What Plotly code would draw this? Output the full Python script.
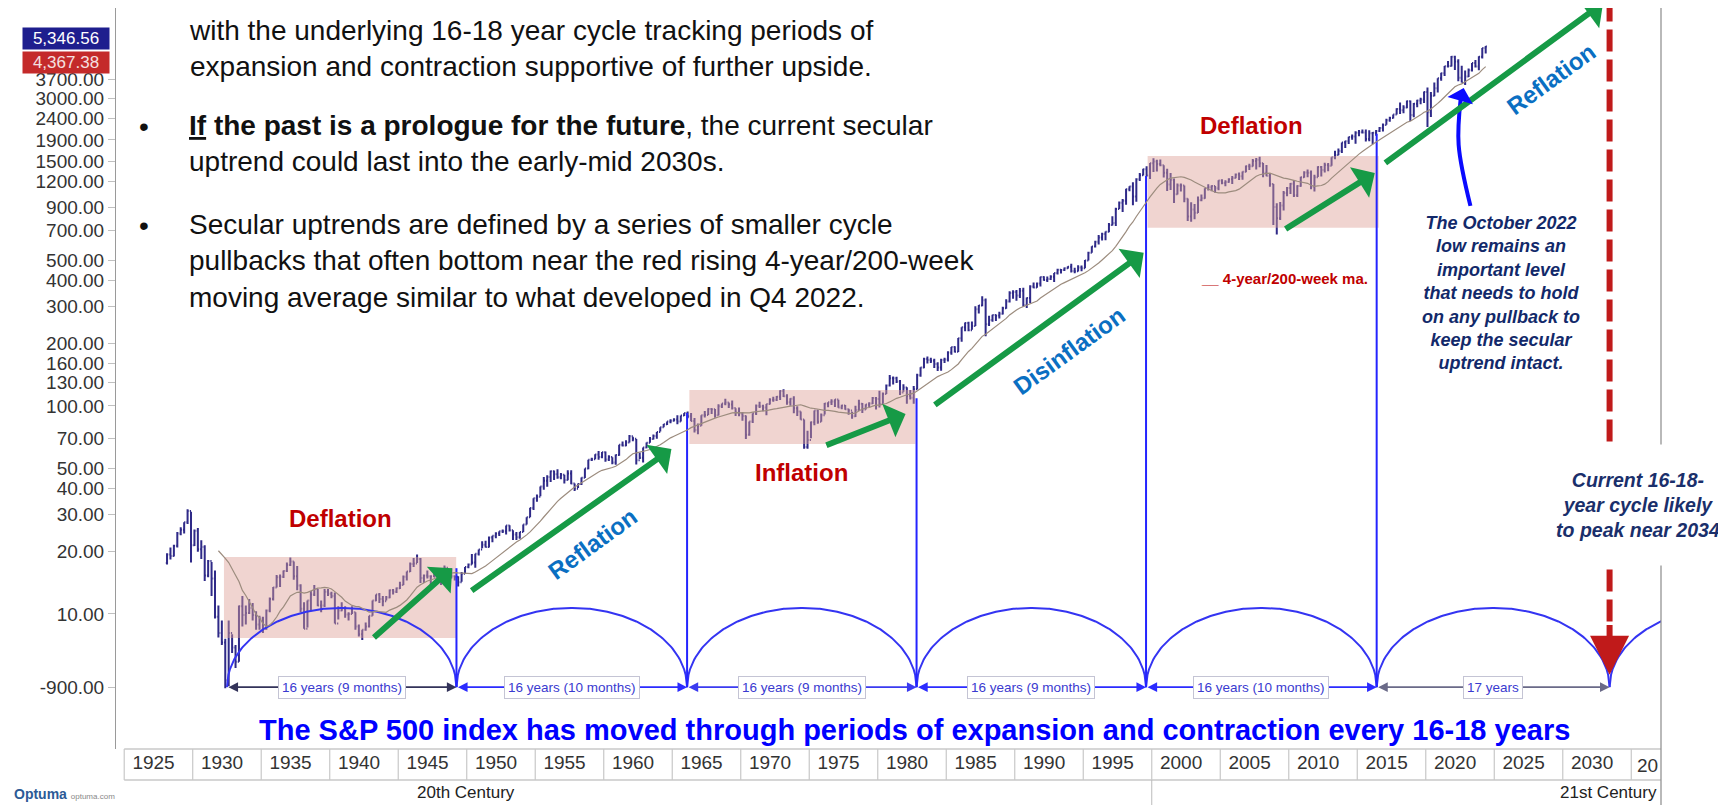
import math
import numpy as np
import pandas as pd
import plotly.graph_objects as go

# ---------------- data (quarterly S&P 500 bars) ----------------
first_year = 1928
first_open = 17.6
quarter_close = [
    19.3, 19.0, 21.3, 24.4, 25.4, 27.6, 31.3, 21.4, 25.1, 20.5, 21.0, 15.3, 18.0, 14.8, 9.7, 8.1,
    7.3, 4.8, 8.1, 6.9, 5.9, 10.9, 9.9, 10.1, 10.7, 9.9, 8.9, 9.5, 8.5, 10.4, 11.8, 13.4,
    15.0, 15.1, 16.1, 17.2, 17.9, 15.2, 13.7, 10.6, 8.5, 11.6, 12.4, 13.2, 11.0, 11.0, 12.8, 12.5,
    12.2, 9.0, 10.4, 10.6, 9.95, 10.0, 10.2, 8.7, 8.0, 8.4, 8.7, 9.8, 11.6, 12.4, 11.8, 11.5,
    12.0, 13.0, 12.8, 13.3, 13.8, 15.1, 16.0, 17.4, 17.5, 18.4, 14.9, 15.3, 15.2, 15.2, 15.1, 15.3,
    15.1, 16.7, 15.5, 15.2, 15.1, 14.2, 15.6, 16.8, 17.3, 17.7, 19.5, 20.4, 21.5, 21.0, 23.3, 23.8,
    24.4, 24.96, 25.0, 26.6, 25.3, 24.1, 23.4, 24.8, 26.9, 29.2, 32.3, 36.0, 36.6, 41.0, 43.7, 45.5,
    48.5, 46.97, 45.4, 46.7, 44.1, 47.4, 42.4, 40.0, 42.1, 45.2, 50.1, 55.2, 55.4, 58.5, 56.9, 59.9,
    55.3, 56.9, 53.5, 58.1, 65.1, 64.6, 66.7, 71.6, 69.6, 54.8, 56.3, 63.1, 66.6, 69.4, 71.7, 75.0,
    79.0, 81.7, 84.2, 84.8, 86.2, 84.1, 90.0, 92.4, 89.2, 84.7, 76.6, 80.3, 90.2, 90.6, 96.7, 96.5,
    90.2, 99.6, 102.7, 103.9, 101.5, 97.7, 93.1, 92.1, 89.6, 72.7, 84.2, 92.2, 100.3, 99.7, 98.3, 102.1,
    107.2, 107.1, 110.6, 118.1, 111.5, 104.3, 108.4, 97.6, 94.0, 86.0, 63.5, 68.6, 83.4, 95.2, 83.9, 90.2,
    102.8, 104.3, 105.2, 107.5, 98.4, 100.5, 96.5, 95.1, 89.2, 95.5, 102.5, 96.1, 101.6, 102.9, 109.3, 107.9,
    102.1, 114.2, 125.5, 135.8, 136.0, 131.2, 116.2, 122.6, 112.0, 109.6, 120.4, 140.6, 153.0, 168.1, 166.1, 164.9,
    159.2, 153.2, 166.1, 167.2, 180.7, 191.9, 182.1, 211.3, 238.9, 250.8, 231.3, 242.2, 291.7, 304.0, 321.8, 247.1,
    258.9, 273.5, 271.9, 277.7, 294.9, 318.0, 349.2, 353.4, 339.9, 358.0, 306.1, 330.2, 375.2, 371.2, 387.9, 417.1,
    403.7, 408.1, 417.8, 435.7, 451.7, 450.5, 458.9, 466.5, 445.8, 444.3, 462.7, 459.3, 500.7, 544.8, 584.4, 615.9,
    645.5, 670.6, 687.3, 740.7, 757.1, 885.1, 947.3, 970.4, 1101.8, 1133.8, 1017.0, 1229.2, 1286.4, 1372.7, 1282.7, 1469.3,
    1498.6, 1454.6, 1436.5, 1320.3, 1160.3, 1224.4, 1040.9, 1148.1, 1147.4, 989.8, 815.3, 879.8, 848.2, 974.5, 996.0, 1111.9,
    1126.2, 1140.8, 1114.6, 1211.9, 1180.6, 1191.3, 1228.8, 1248.3, 1294.8, 1270.2, 1335.9, 1418.3, 1420.9, 1503.4, 1526.8, 1468.4,
    1322.7, 1280.0, 1166.4, 903.3, 797.9, 919.3, 1057.1, 1115.1, 1169.4, 1030.7, 1141.2, 1257.6, 1325.8, 1320.6, 1131.4, 1257.6,
    1408.5, 1362.2, 1440.7, 1426.2, 1569.2, 1606.3, 1681.6, 1848.4, 1872.3, 1960.2, 1972.3, 2058.9, 2067.9, 2063.1, 1920.0, 2043.9,
    2059.7, 2098.9, 2168.3, 2238.8, 2362.7, 2423.4, 2519.4, 2673.6, 2640.9, 2718.4, 2914.0, 2506.9, 2834.4, 2941.8, 2976.7, 3230.8,
    2584.6, 3100.3, 3363.0, 3756.1, 3972.9, 4297.5, 4307.5, 4766.2, 4530.4, 3785.4, 3585.6, 3839.5, 4109.3, 4450.4, 4288.1, 4769.8,
    5254.4, 5346.56,
]
quarter_high = [
    19.6, 20.9, 21.5, 24.8, 26.1, 27.6, 31.9, 31.0, 25.5, 25.9, 22.6, 21.4, 18.2, 17.8, 16.2, 11.0,
    9.3, 7.6, 9.3, 8.0, 7.1, 11.0, 12.2, 11.0, 11.8, 11.3, 10.3, 9.8, 9.7, 10.5, 12.0, 13.5,
    15.4, 15.5, 16.2, 17.7, 18.7, 17.9, 17.0, 13.9, 11.4, 11.6, 12.9, 13.8, 13.2, 11.6, 13.2, 13.2,
    12.8, 12.7, 10.9, 11.4, 10.9, 10.2, 10.9, 10.2, 8.9, 8.4, 9.1, 9.8, 11.6, 12.4, 12.6, 12.2,
    12.2, 13.1, 13.2, 13.4, 14.3, 15.3, 16.0, 17.7, 18.6, 19.3, 18.6, 15.5, 16.2, 15.2, 16.1, 15.8,
    15.1, 17.1, 16.5, 16.6, 15.3, 15.2, 15.9, 16.8, 17.5, 19.4, 19.5, 20.4, 22.4, 22.5, 23.6, 23.8,
    24.7, 24.96, 25.5, 26.6, 26.7, 25.3, 24.8, 24.8, 26.9, 29.2, 32.4, 36.0, 37.5, 41.0, 45.6, 46.4,
    48.9, 48.9, 49.7, 47.6, 46.7, 49.1, 49.1, 42.4, 42.4, 45.3, 50.1, 55.2, 56.4, 58.6, 60.7, 60.0,
    60.4, 58.0, 56.7, 58.4, 65.1, 67.4, 68.5, 72.6, 71.1, 69.4, 59.7, 63.1, 66.7, 71.0, 73.0, 75.0,
    79.1, 82.0, 84.2, 86.3, 87.2, 90.3, 90.0, 92.6, 94.1, 92.4, 87.6, 82.4, 90.2, 94.6, 97.6, 97.6,
    96.6, 102.0, 102.9, 108.4, 104.0, 106.2, 97.6, 98.3, 93.5, 90.1, 84.3, 92.2, 101.6, 104.8, 101.4, 102.1,
    108.9, 110.7, 111.7, 119.1, 120.2, 113.7, 109.0, 111.4, 99.8, 94.0, 86.0, 76.0, 84.1, 95.2, 95.6, 92.0,
    103.4, 104.3, 107.8, 107.8, 107.0, 101.3, 101.0, 97.0, 93.8, 100.3, 107.0, 103.2, 102.0, 104.2, 110.5, 110.3,
    118.4, 116.0, 126.7, 141.0, 138.4, 138.0, 133.2, 127.0, 122.9, 119.3, 124.8, 143.0, 153.7, 170.4, 172.7, 170.4,
    168.8, 162.0, 168.4, 170.4, 183.4, 192.0, 193.8, 212.0, 238.9, 251.8, 254.0, 254.9, 301.9, 306.0, 336.8, 328.1,
    271.1, 274.8, 274.0, 283.7, 300.0, 325.8, 356.0, 360.4, 360.6, 368.9, 369.8, 332.6, 380.0, 392.0, 392.0, 418.0,
    420.8, 419.0, 425.0, 436.0, 456.3, 453.0, 463.6, 470.0, 482.0, 462.0, 475.0, 473.0, 503.0, 551.0, 586.0, 622.0,
    664.0, 680.0, 690.0, 757.0, 817.0, 898.0, 960.0, 987.0, 1106.0, 1139.0, 1190.0, 1244.0, 1317.0, 1383.0, 1421.0, 1473.0,
    1553.0, 1527.0, 1530.0, 1436.0, 1383.0, 1316.0, 1239.0, 1173.0, 1173.0, 1147.0, 995.0, 954.0, 935.0, 1015.0, 1040.0, 1112.0,
    1163.0, 1150.0, 1140.0, 1217.0, 1229.0, 1217.0, 1245.0, 1275.0, 1310.0, 1326.0, 1340.0, 1431.0, 1461.0, 1540.0, 1555.0, 1576.0,
    1471.0, 1440.0, 1313.0, 1167.0, 943.0, 956.0, 1080.0, 1130.0, 1180.0, 1220.0, 1150.0, 1263.0, 1344.0, 1371.0, 1356.0, 1293.0,
    1420.0, 1422.0, 1475.0, 1470.0, 1570.0, 1687.0, 1730.0, 1849.0, 1884.0, 1968.0, 2019.0, 2093.0, 2119.0, 2135.0, 2133.0, 2116.0,
    2073.0, 2120.0, 2194.0, 2278.0, 2401.0, 2454.0, 2519.0, 2695.0, 2873.0, 2791.0, 2941.0, 2940.0, 2860.0, 2964.0, 3028.0, 3248.0,
    3394.0, 3233.0, 3588.0, 3760.0, 3994.0, 4302.0, 4546.0, 4808.0, 4818.0, 4637.0, 4325.0, 4101.0, 4195.0, 4458.0, 4607.0, 4793.0,
    5264.0, 5375.0,
]
quarter_low = [
    17.3, 18.3, 18.9, 20.9, 23.9, 24.4, 27.1, 17.7, 21.2, 19.9, 18.4, 14.4, 15.0, 12.2, 9.5, 7.7,
    7.1, 4.4, 4.5, 6.5, 5.5, 5.9, 8.7, 8.9, 10.0, 9.3, 8.4, 8.4, 8.1, 8.4, 10.2, 11.6,
    13.4, 13.5, 14.9, 15.9, 17.0, 14.6, 13.0, 10.2, 8.5, 8.6, 10.3, 12.2, 10.9, 10.2, 10.8, 12.2,
    11.9, 8.99, 9.4, 10.3, 9.6, 9.3, 10.0, 8.4, 7.8, 7.5, 8.3, 8.6, 9.8, 11.5, 11.3, 10.9,
    11.6, 11.9, 12.4, 12.6, 13.2, 13.8, 14.5, 15.9, 16.8, 17.6, 14.1, 14.1, 14.8, 13.7, 15.0, 14.8,
    13.8, 14.8, 15.0, 14.8, 14.5, 13.55, 14.3, 15.6, 16.6, 17.3, 16.7, 19.1, 20.7, 20.9, 20.9, 22.1,
    23.1, 23.7, 24.5, 24.1, 24.9, 22.7, 22.7, 23.0, 24.8, 26.9, 29.2, 31.6, 34.6, 36.8, 39.6, 40.9,
    43.1, 44.1, 44.7, 44.4, 42.4, 43.9, 42.0, 38.98, 40.3, 41.7, 45.0, 49.7, 54.4, 55.4, 55.1, 56.1,
    54.0, 54.4, 52.5, 52.2, 57.6, 63.8, 64.0, 66.7, 67.6, 52.3, 55.6, 53.5, 62.7, 66.5, 68.9, 69.6,
    75.4, 78.9, 81.0, 82.6, 84.2, 81.6, 84.1, 89.4, 87.4, 84.5, 74.5, 73.2, 80.4, 88.0, 90.6, 91.6,
    87.7, 90.0, 97.7, 100.9, 97.7, 96.2, 89.5, 89.2, 85.0, 69.3, 71.9, 82.7, 90.6, 97.7, 94.3, 90.2,
    101.7, 104.7, 105.7, 106.8, 110.4, 101.3, 100.2, 92.2, 89.5, 85.9, 62.3, 62.3, 70.0, 80.8, 82.1, 83.9,
    90.9, 98.5, 101.0, 98.8, 98.1, 96.5, 96.0, 90.7, 86.9, 88.6, 95.3, 92.5, 96.1, 98.2, 102.1, 96.1,
    98.2, 102.4, 114.2, 124.1, 126.9, 129.1, 112.8, 117.1, 102.4, 107.3, 102.4, 120.0, 138.3, 151.8, 160.1, 161.0,
    152.1, 147.3, 147.8, 160.9, 163.7, 176.3, 180.7, 181.9, 203.5, 228.8, 228.7, 232.2, 242.2, 278.2, 301.4, 216.5,
    242.6, 254.0, 256.0, 263.0, 275.3, 292.9, 314.6, 328.0, 320.0, 329.9, 300.0, 295.5, 311.5, 368.0, 370.0, 375.0,
    400.0, 394.5, 403.5, 394.0, 429.0, 433.5, 445.0, 457.0, 438.0, 435.0, 443.0, 444.0, 459.0, 500.0, 545.0, 577.0,
    597.0, 624.0, 626.0, 684.0, 737.0, 733.0, 885.0, 855.0, 927.0, 1077.0, 923.0, 959.0, 1205.0, 1282.0, 1268.0, 1233.0,
    1333.0, 1339.0, 1420.0, 1254.0, 1081.0, 1091.0, 945.0, 1038.0, 1074.0, 953.0, 775.0, 768.0, 789.0, 847.0, 965.0, 990.0,
    1087.0, 1076.0, 1060.0, 1090.0, 1163.0, 1137.0, 1183.0, 1168.0, 1245.0, 1219.0, 1224.0, 1327.0, 1364.0, 1416.0, 1371.0, 1406.0,
    1257.0, 1272.0, 1133.0, 741.0, 667.0, 783.0, 869.0, 1020.0, 1044.0, 1011.0, 1010.0, 1131.0, 1250.0, 1258.0, 1101.0, 1075.0,
    1259.0, 1267.0, 1325.0, 1343.0, 1426.0, 1536.0, 1604.0, 1646.0, 1738.0, 1815.0, 1905.0, 1821.0, 1981.0, 2040.0, 1867.0, 1872.0,
    1810.0, 1992.0, 2074.0, 2084.0, 2245.0, 2323.0, 2406.0, 2520.0, 2533.0, 2553.0, 2699.0, 2346.0, 2444.0, 2729.0, 2822.0, 2856.0,
    2192.0, 2447.0, 3080.0, 3209.0, 3662.0, 3854.0, 4233.0, 4279.0, 4115.0, 3637.0, 3584.0, 3492.0, 3809.0, 4049.0, 4238.0, 4104.0,
    4683.0, 4953.0,
]
last_price_label = "5,346.56"
last_ma_label = "4,367.38"
last_price_value = 5346.56
last_ma_value = 4367.38

cycle_lows = [1932.5, 1949.25, 1966.083, 1982.833, 1999.583, 2016.417, 2033.417]
cycle_labels = ["16 years (9 months)", "16 years (10 months)", "16 years (9 months)",
                "16 years (9 months)", "16 years (10 months)", "17 years"]
cycle_arrow_colors = ["#33335a", "#2b2bff", "#3b3bf0", "#2b2bff", "#2b2bff", "#6a6a88"]
cycle_base = 4.45
arc_peak = 10.7
cycle_line_tops = [16.6, 92.5, 109.0, 1276.0, 2032.0]

year_ticks = list(range(1925, 2035, 5))
y_ticks = [10, 20, 30, 40, 50, 70, 100, 130, 160, 200, 300, 400, 500, 700, 900,
           1200, 1500, 1900, 2400, 3000, 3700]

regime_boxes = [  # (x0, x1, low, high)
    (1932.28, 1949.23, 7.67, 18.8),
    (1966.25, 1982.75, 65.6, 119.4),
    (1999.70, 2016.57, 718.0, 1592.0),
]
regime_labels = [  # (text, year, value, angle, colour)
    ("Deflation", 1940.8, 28.9, 0, "#c00000"),
    ("Reflation", 1959.2, 21.9, -36, "#0a6fc2"),
    ("Inflation", 1974.4, 47.7, 0, "#c00000"),
    ("Disinflation", 1994.0, 184.0, -36, "#0a6fc2"),
    ("Deflation", 2007.3, 2218.0, 0, "#c00000"),
    ("Reflation", 2029.2, 3733.0, -36, "#0a6fc2"),
]
green_arrows = [  # (from year, from value, to year, to value)
    (1943.12, 7.59, 1948.94, 16.6),
    (1950.25, 12.8, 1964.94, 62.1),
    (1976.14, 64.3, 1982.03, 91.5),
    (1984.06, 100.0, 1999.41, 545.0),
    (2009.66, 702.0, 2016.28, 1318.0),
    (2016.94, 1455.0, 2032.94, 8650.0),
]
october_curve_x = [2023.26, 2022.40, 2022.55]
october_curve_y = [916.0, 1800.0, 3000.0]
october_tip = (2022.77, 3380.0)
forecast_top = 9000.0
forecast_tip = 5.1

X_RANGE = [1924.40, 2037.17]
Y_RANGE = [0.351, 3.913]

# ---------------- helpers ----------------
L, R, T, B = 108, 73, 0, 64
W, H = 1726, 805
PW, PH = W - L - R, H - T - B


def px(xpix):
    return (xpix - L) / PW


def py(ypix):
    return (H - B - ypix) / PH


lg = math.log10

n = len(quarter_close)
bar_x = [first_year + i * 0.25 + 0.125 for i in range(n)]
bar_open = [first_open] + quarter_close[:-1]
ma = pd.Series(quarter_close).rolling(16).mean()

fig = go.Figure()

# regime shading
for x0, x1, lo, hi in regime_boxes:
    fig.add_trace(go.Scatter(x=[x0, x1, x1, x0, x0], y=[lo, lo, hi, hi, lo], mode="lines",
                             fill="toself", fillcolor="rgba(222,160,150,0.45)",
                             line=dict(width=0), hoverinfo="skip"))

# cycle arcs
h_log = lg(arc_peak) - lg(cycle_base)
arc_ends = cycle_lows + [cycle_lows[-1] + 17.0]
for a, b in zip(arc_ends[:-1], arc_ends[1:]):
    t = np.linspace(a, b, 160)
    u = (t - (a + b) / 2) / ((b - a) / 2)
    yv = 10 ** (lg(cycle_base) + h_log * np.sqrt(np.clip(1 - u ** 2, 0, 1)))
    fig.add_trace(go.Scatter(x=t, y=yv, mode="lines", line=dict(color="#3434f2", width=2),
                             hoverinfo="skip"))

# vertical cycle lines
for xl, top in zip(cycle_lows[1:6], cycle_line_tops):
    fig.add_trace(go.Scatter(x=[xl, xl], y=[cycle_base, top], mode="lines",
                             line=dict(color="#2424ff", width=2), hoverinfo="skip"))

# forecast red dashed line
fig.add_trace(go.Scatter(x=[cycle_lows[-1], cycle_lows[-1]], y=[forecast_top, 9.0], mode="lines",
                         line=dict(color="#c01a1a", width=6, dash="22px,8px"), hoverinfo="skip"))

# price bars
fig.add_trace(go.Ohlc(x=bar_x, open=bar_open, high=quarter_high, low=quarter_low, close=quarter_close,
                      increasing=dict(line=dict(color="#2f2a88", width=2)),
                      decreasing=dict(line=dict(color="#2f2a88", width=2)),
                      tickwidth=0.35, hoverinfo="skip"))

# moving average
fig.add_trace(go.Scatter(x=bar_x, y=ma, mode="lines", line=dict(color="#9c8c7e", width=1.2),
                         hoverinfo="skip"))

# October curve
fig.add_trace(go.Scatter(x=october_curve_x, y=october_curve_y, mode="lines",
                         line=dict(color="#0a0aff", width=4, shape="spline"), hoverinfo="skip"))

ann = []
# green arrows
for x0, v0, x1, v1 in green_arrows:
    ann.append(dict(x=x1, y=lg(v1), ax=x0, ay=lg(v0), xref="x", yref="y", axref="x", ayref="y",
                    text="", showarrow=True, arrowhead=1, arrowsize=1.0, arrowwidth=6,
                    arrowcolor="#169a46"))
# October arrow head
ann.append(dict(x=october_tip[0], y=lg(october_tip[1]), ax=october_curve_x[-1], ay=lg(october_curve_y[-1]),
                xref="x", yref="y", axref="x", ayref="y", text="", showarrow=True, arrowhead=1,
                arrowsize=1.1, arrowwidth=4, arrowcolor="#0a0aff"))
# red arrow head
ann.append(dict(x=cycle_lows[-1], y=lg(forecast_tip), ax=cycle_lows[-1], ay=lg(9.0), xref="x", yref="y",
                axref="x", ayref="y", text="", showarrow=True, arrowhead=2, arrowsize=1.3,
                arrowwidth=6, arrowcolor="#c01a1a"))
# cycle length arrows and labels
for i, lab in enumerate(cycle_labels):
    a, b = cycle_lows[i], cycle_lows[i + 1]
    ann.append(dict(x=b, y=lg(cycle_base), ax=a, ay=lg(cycle_base), xref="x", yref="y", axref="x",
                    ayref="y", text="", showarrow=True, arrowhead=2, arrowside="end+start",
                    arrowsize=1.2, arrowwidth=1.6, arrowcolor=cycle_arrow_colors[i],
                    startarrowhead=2, startarrowsize=1.2))
    ann.append(dict(x=(a + b) / 2, y=lg(cycle_base), xref="x", yref="y", text=lab, showarrow=False,
                    font=dict(family="Arial", size=13.5, color="#3a3ad0"), bgcolor="white",
                    bordercolor="#c4c4d4", borderwidth=1, borderpad=3))
# regime labels
for txt, xv, vv, ang, col in regime_labels:
    ann.append(dict(x=xv, y=lg(vv), xref="x", yref="y", text=f"<b>{txt}</b>", showarrow=False,
                    textangle=ang, font=dict(family="Arial", size=24, color=col)))
# MA legend
ann.append(dict(x=2009.66, y=lg(408), xref="x", yref="y", text="<b>__ 4-year/200-week ma.</b>",
                showarrow=False, font=dict(family="Arial", size=15, color="#c00000")))
# October note
ann.append(dict(x=2025.5, y=2.543, xref="x", yref="y",
                text="<b><i>The October 2022<br>low remains an<br>important level<br>that needs to hold<br>"
                     "on any pullback to<br>keep the secular<br>uptrend intact.</i></b>",
                showarrow=False, align="center", font=dict(family="Arial", size=18, color="#12296a")))
# Current cycle note (white box)
ann.append(dict(x=px(1630), y=py(497), xref="paper", yref="paper", xanchor="center", yanchor="middle",
                text="<b><i>Current 16-18-<br>year cycle likely<br>to peak near 2034</i></b>",
                showarrow=False, align="center", bgcolor="white", width=190, height=118,
                font=dict(family="Arial", size=19.5, color="#1a2f6b")))
# title in plot
ann.append(dict(x=px(907), y=py(722), xref="paper", yref="paper", xanchor="center", yanchor="middle",
                text="<b>The S&P 500 index has moved through periods of expansion and contraction every 16-18 years</b>",
                showarrow=False, font=dict(family="Arial", size=29, color="#0000ff")))
# bullet text
txt_font = dict(family="Arial", size=28, color="#111111")
ann.append(dict(x=px(179), y=py(41), xref="paper", yref="paper", xanchor="left", yanchor="middle",
                align="left",
                text="with the underlying 16-18 year cycle tracking periods of<br>"
                     "expansion and contraction supportive of further upside.",
                showarrow=False, font=txt_font))
ann.append(dict(x=px(179), y=py(136), xref="paper", yref="paper", xanchor="left", yanchor="middle",
                align="left",
                text="<b><u>If</u> the past is a prologue for the future</b>, the current secular<br>"
                     "uptrend could last into the early-mid 2030s.",
                showarrow=False, font=txt_font))
ann.append(dict(x=px(179), y=py(253), xref="paper", yref="paper", xanchor="left", yanchor="middle",
                align="left",
                text="Secular uptrends are defined by a series of smaller cycle<br>"
                     "pullbacks that often bottom near the red rising 4-year/200-week<br>"
                     "moving average similar to what developed in Q4 2022.",
                showarrow=False, font=txt_font))
for yb in (119, 217):
    ann.append(dict(x=px(136), y=py(yb), xref="paper", yref="paper", xanchor="center", yanchor="middle",
                    text="•", showarrow=False, font=dict(family="Arial", size=28, color="#111111")))
# last value boxes
ann.append(dict(x=0, y=lg(last_price_value), xref="paper", yref="y", xanchor="right", xshift=-6, yshift=8,
                text=last_price_label, showarrow=False, bgcolor="#1e1e8e", width=84, height=19,
                font=dict(family="Arial", size=17, color="white")))
ann.append(dict(x=0, y=lg(last_ma_value), xref="paper", yref="y", xanchor="right", xshift=-6, yshift=2,
                text=last_ma_label, showarrow=False, bgcolor="#c42a2a", width=84, height=19,
                font=dict(family="Arial", size=17, color="#f4e0e0")))
# truncated 2035 cell label
ann.append(dict(x=2035.3, y=py(757), xref="x", yref="paper", yanchor="middle", xanchor="left",
                text="20", showarrow=False, font=dict(family="Arial", size=19, color="#333")))
# century row
ann.append(dict(x=px(458), y=py(785), xref="paper", yref="paper", xanchor="center", yanchor="middle",
                text="20th Century", showarrow=False, font=dict(family="Arial", size=17, color="#222")))
ann.append(dict(x=px(1651), y=py(785), xref="paper", yref="paper", xanchor="right", yanchor="middle",
                text="21st Century", showarrow=False, font=dict(family="Arial", size=17, color="#222")))
# Optuma logo text
ann.append(dict(x=px(4), y=py(786), xref="paper", yref="paper", xanchor="left", yanchor="middle",
                text="<b>Optuma</b> <span style='font-size:8px;color:#888'>optuma.com</span>",
                showarrow=False, font=dict(family="Arial", size=14, color="#2c5a96")))

# shapes: year row cells, century row
shapes = []
row_top, row_bot, cen_bot = 0, py(772), py(805)
shapes.append(dict(type="line", xref="x", yref="paper", x0=1925, x1=X_RANGE[1], y0=row_top, y1=row_top,
                   line=dict(color="#c8c8c8", width=1.5)))
shapes.append(dict(type="line", xref="x", yref="paper", x0=1925, x1=X_RANGE[1], y0=row_bot, y1=row_bot,
                   line=dict(color="#c8c8c8", width=1.5)))
for yr in year_ticks + [2035]:
    shapes.append(dict(type="line", xref="x", yref="paper", x0=yr, x1=yr, y0=row_top, y1=row_bot,
                       line=dict(color="#c8c8c8", width=1.2)))
shapes.append(dict(type="line", xref="x", yref="paper", x0=2000, x1=2000, y0=row_bot, y1=cen_bot,
                   line=dict(color="#bbbbbb", width=1)))
shapes.append(dict(type="line", xref="paper", yref="paper", x0=1, x1=1, y0=cen_bot, y1=1,
                   line=dict(color="#8a8a8a", width=1.2)))

fig.update_layout(
    width=W, height=H, margin=dict(l=L, r=R, t=T, b=B),
    paper_bgcolor="white", plot_bgcolor="white", showlegend=False,
    annotations=ann, shapes=shapes,
    xaxis=dict(range=X_RANGE, tickmode="array", tickvals=[y + 2.14 for y in year_ticks],
               ticktext=[str(y) for y in year_ticks], showgrid=False, zeroline=False, ticks="",
               showline=False, tickfont=dict(family="Arial", size=19, color="#333"),
               rangeslider=dict(visible=False)),
    yaxis=dict(type="log", range=Y_RANGE, tickmode="array",
               tickvals=y_ticks + [cycle_base],
               ticktext=[f"{v:.2f}" for v in y_ticks] + ["-900.00"],
               showgrid=False, zeroline=False, ticks="outside", ticklen=7, tickcolor="#c0c0c0",
               showline=True, linecolor="#9a9a9a", linewidth=1,
               tickfont=dict(family="Arial", size=19, color="#333")),
)

fig.write_html("out.html")
